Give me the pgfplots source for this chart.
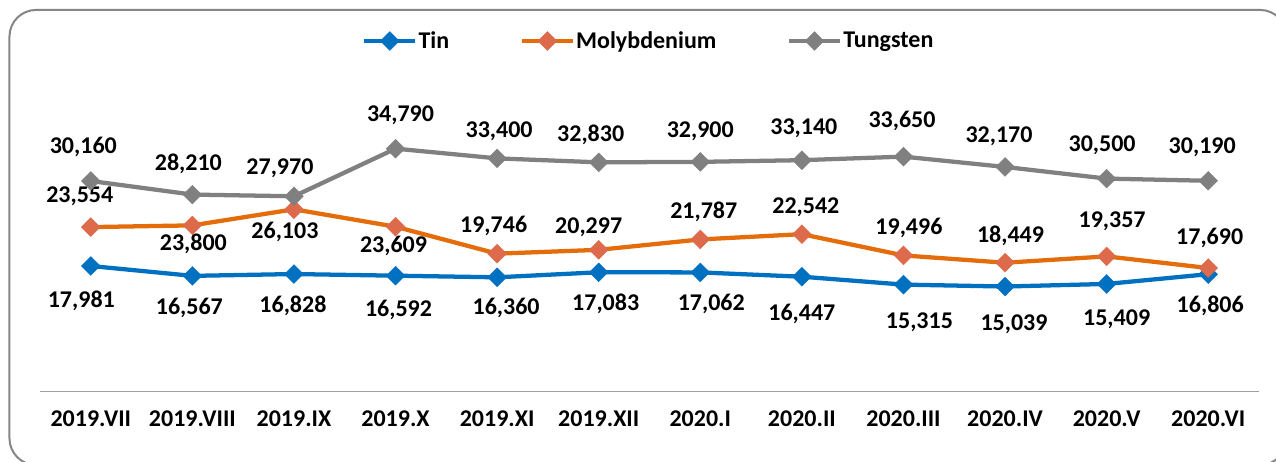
\documentclass[border=0pt]{standalone}
\usepackage{fontspec}
\setmainfont{Carlito}
\usepackage{pgfplots}
\usepackage{pgfplotstable}
\pgfplotsset{compat=1.18}

\definecolor{tincol}{RGB}{0,112,192}
\definecolor{molyline}{RGB}{228,108,10}
\definecolor{molymark}{RGB}{221,107,75}
\definecolor{tungcol}{RGB}{128,128,128}
\definecolor{framecol}{RGB}{134,134,134}
\definecolor{axiscol}{RGB}{160,160,160}

\pgfplotstableread{
x y dx dy
0 17981 -7.1 -25.9
1 16567 -2.25 -24
2 16828 -0.75 -24
3 16592 2.25 -25.5
4 16360 6.75 -23.25
5 17083 5.25 -24
6 17062 8.25 -24
7 16447 0 -27.75
8 15315 12 -28.1
9 15039 6.75 -28.5
10 15409 7.5 -26.25
11 16806 1.5 -24
}\tintable

\pgfplotstableread{
x y dx dy
0 23554 -8.25 23.25
1 23800 0.75 -13.5
2 26103 -6.75 -17.25
3 23609 -1.5 -14.25
4 19746 -2.6 20.6
5 20297 -7.5 16.9
6 21787 2.6 20.6
7 22542 3 19.9
8 19496 4.1 20.6
9 18449 4.1 19.9
10 19357 4.1 26.25
11 17690 1.1 22.5
}\molytable

\pgfplotstableread{
x y dx dy
0 30160 -5.6 25.9
1 28210 -3 22.9
2 27970 -10.5 21
3 34790 3.75 24.75
4 33400 1.5 20.25
5 32830 -6 21
6 32900 0 22.9
7 33140 1.5 24
8 33650 -1.1 27
9 32170 -4.5 23.25
10 30500 -3.4 24.75
11 30190 -4.5 25.5
}\tungtable

\begin{document}
\begin{tikzpicture}
\useasboundingbox (0,0) rectangle (957pt,345.75pt);
\draw[framecol, line width=1.5pt, rounded corners=20pt] (7.1pt,338.3pt) rectangle (965pt,-3pt);
\begin{axis}[
  at={(30pt,52.125pt)}, anchor=south west,
  scale only axis, width=914.25pt, height=209.4pt,
  xmin=-0.5, xmax=11.5, ymin=0, ymax=40000,
  axis x line*=bottom, axis y line=none,
  x axis line style={axiscol, line width=1pt, -},
  xtick={0,...,11},
  xticklabels={2019.VII,2019.VIII,2019.IX,2019.X,2019.XI,2019.XII,2020.I,2020.II,2020.III,2020.IV,2020.V,2020.VI},
  major tick length=0pt,
  ytick=\empty,
  xticklabel style={font=\bfseries\fontsize{18}{21.6}\selectfont, anchor=base, yshift=-26.4pt, text=black},
  clip=false,
  point meta=explicit,
  nodes near coords={\pgfmathprintnumber[fixed, precision=0, 1000 sep={,}, assume math mode=true]{\pgfplotspointmeta}},
  visualization depends on={\thisrow{dx} \as \dx},
  visualization depends on={\thisrow{dy} \as \dy},
  nodes near coords style={font=\bfseries\fontsize{18}{21.6}\selectfont, anchor=center, xshift=\dx pt, yshift=\dy pt, text=black, inner sep=0pt},
  legend columns=3,
  legend image code/.code={\draw[mark repeat=2,mark phase=2,#1] plot coordinates {(0pt,0pt) (19pt,0pt) (38pt,0pt)};},
  legend style={at={(0.2642,1.2554)}, anchor=west, draw=none, fill=none, inner sep=0pt,
    font=\bfseries\fontsize{18}{21.6}\selectfont, nodes={inner sep=1pt},
    /tikz/every even column/.append style={column sep=52pt}},
]
\addplot[tincol, line width=3.2pt, mark=square*, mark size=5pt,
  mark options={rotate=45, solid, fill=tincol, draw=tincol, line width=0.3pt}]
  table[x=x, y=y, meta=y]{\tintable};
\addlegendentry{Tin}
\addplot[molyline, line width=3.2pt, mark=square*, mark size=5pt,
  mark options={rotate=45, solid, fill=molymark, draw=molymark, line width=0.3pt}]
  table[x=x, y=y, meta=y]{\molytable};
\addlegendentry{Molybdenium}
\addplot[tungcol, line width=3.2pt, mark=square*, mark size=5pt,
  mark options={rotate=45, solid, fill=tungcol, draw=tungcol, line width=0.3pt}]
  table[x=x, y=y, meta=y]{\tungtable};
\addlegendentry{Tungsten}
\end{axis}
\end{tikzpicture}
\end{document}
